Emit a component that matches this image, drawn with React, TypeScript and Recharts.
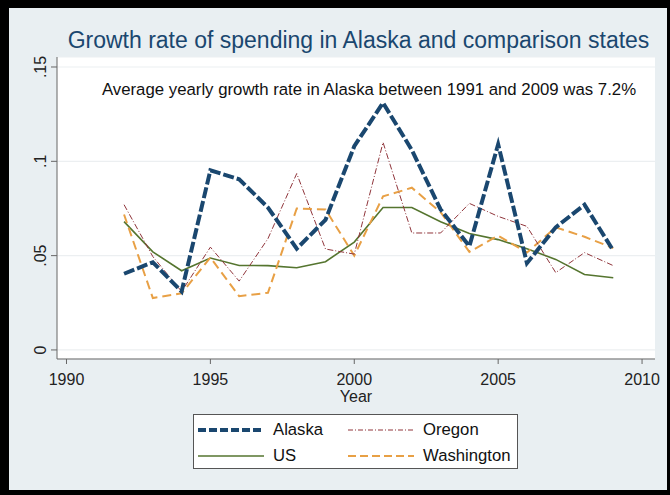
import React from 'react';
import { LineChart, Line, XAxis, YAxis, CartesianGrid } from 'recharts';

const years = [1992, 1993, 1994, 1995, 1996, 1997, 1998, 1999, 2000, 2001, 2002, 2003, 2004, 2005, 2006, 2007, 2008, 2009];
const alaska = [0.0404, 0.0465, 0.031, 0.0952, 0.0905, 0.0755, 0.0537, 0.069, 0.108, 0.131, 0.106, 0.0745, 0.055, 0.109, 0.046, 0.065, 0.077, 0.0527];
const us = [0.068, 0.052, 0.042, 0.0487, 0.0448, 0.0447, 0.0436, 0.0468, 0.0572, 0.0755, 0.0755, 0.068, 0.0617, 0.0585, 0.0537, 0.048, 0.04, 0.0383];
const oregon = [0.077, 0.0495, 0.031, 0.0545, 0.0365, 0.059, 0.0935, 0.0535, 0.0508, 0.11, 0.062, 0.062, 0.0777, 0.0708, 0.0655, 0.041, 0.0516, 0.0447];
const washington = [0.0718, 0.0275, 0.03, 0.049, 0.0285, 0.0303, 0.075, 0.0745, 0.05, 0.0814, 0.086, 0.073, 0.052, 0.0606, 0.0516, 0.065, 0.06, 0.054];

const xTicks = [1990, 1995, 2000, 2005, 2010];
const yTicks = [0, 0.05, 0.1, 0.15];
const yTickLabels = ['0', '.05', '.1', '.15'];

const titleText = 'Growth rate of spending in Alaska and comparison states';
const noteText = 'Average yearly growth rate in Alaska between 1991 and 2009 was 7.2%';
const xLabel = 'Year';

const data = years.map((year, i) => ({
  year,
  alaska: alaska[i],
  us: us[i],
  oregon: oregon[i],
  washington: washington[i],
}));

const FONT = '"Liberation Sans", Arial, Helvetica, sans-serif';

const C_AK = '#1a476f';
const C_US = '#55752f';
const C_OR = '#90353b';
const C_WA = '#e8a045';

const YTick = (props: any) => {
  const { x, y, payload } = props;
  const idx = yTicks.indexOf(payload.value);
  const label = idx >= 0 ? yTickLabels[idx] : String(payload.value);
  const bx = x - 3;
  return (
    <text x={bx} y={y} transform={`rotate(-90 ${bx} ${y})`} textAnchor="middle" fontFamily={FONT} fontSize={16} fill="#222">
      {label}
    </text>
  );
};

const XTick = (props: any) => {
  const { x, y, payload } = props;
  return (
    <text x={x} y={y + 19} textAnchor="middle" fontFamily={FONT} fontSize={16} fill="#222">
      {payload.value}
    </text>
  );
};

const legendItems = [
  { name: 'Alaska', color: C_AK, width: 4, dash: '8 3' },
  { name: 'Oregon', color: C_OR, width: 1, dash: '5 2 1 2' },
  { name: 'US', color: C_US, width: 1.5, dash: '' },
  { name: 'Washington', color: C_WA, width: 2, dash: '8 4' },
];

export default function App() {
  return (
    <div style={{ position: 'fixed', left: 0, top: 0, width: 670, height: 495, background: '#000', overflow: 'hidden' }}>
      <div style={{ position: 'absolute', left: 9, top: 8, width: 658, height: 482, background: '#e9eff2' }} />
      <div style={{ position: 'absolute', left: 0, top: 0 }}>
        <LineChart width={670} height={495} data={data} margin={{ top: 57, right: 15, bottom: 96, left: 0 }}>
          <CartesianGrid horizontal vertical={false} fill="#ffffff" stroke="#eceff1" strokeWidth={1.2} />
          <XAxis
            type="number"
            dataKey="year"
            domain={[1989.67, 2010.45]}
            ticks={xTicks}
            height={40}
            tickSize={5}
            tick={<XTick />}
            axisLine={{ stroke: '#666' }}
            tickLine={{ stroke: '#666' }}
            allowDataOverflow
          />
          <YAxis
            type="number"
            domain={[-0.0048, 0.1553]}
            ticks={yTicks}
            width={57}
            tickSize={6}
            tick={<YTick />}
            axisLine={{ stroke: '#666' }}
            tickLine={{ stroke: '#666' }}
            allowDataOverflow
          />
          <Line type="linear" dataKey="us" stroke={C_US} strokeWidth={1.6} dot={false} isAnimationActive={false} />
          <Line type="linear" dataKey="washington" stroke={C_WA} strokeWidth={2} strokeDasharray="9 5" dot={false} isAnimationActive={false} />
          <Line type="linear" dataKey="oregon" stroke={C_OR} strokeWidth={1} strokeDasharray="6 2 1 2" dot={false} isAnimationActive={false} />
          <Line type="linear" dataKey="alaska" stroke={C_AK} strokeWidth={4} strokeDasharray="11 3" dot={false} isAnimationActive={false} />
        </LineChart>
      </div>
      <div style={{ position: 'absolute', left: 0, width: 717, top: 26, textAlign: 'center', fontFamily: FONT, fontSize: 23, color: C_AK, whiteSpace: 'nowrap', lineHeight: '28px' }}>
        {titleText}
      </div>
      <div style={{ position: 'absolute', left: 0, width: 738, top: 80, textAlign: 'center', fontFamily: FONT, fontSize: 16.8, color: '#111', whiteSpace: 'nowrap', lineHeight: '20px' }}>
        {noteText}
      </div>
      <div style={{ position: 'absolute', left: 0, width: 712, top: 389, textAlign: 'center', fontFamily: FONT, fontSize: 16, color: '#222', lineHeight: '16px' }}>
        {xLabel}
      </div>
      <div style={{ position: 'absolute', left: 193, top: 414, width: 323, height: 53, background: '#fff', border: '1px solid #555' }}>
        {legendItems.map((it, i) => {
          const col = i % 2;
          const row = Math.floor(i / 2);
          const left = col === 0 ? 4 : 154;
          const top = row === 0 ? 4 : 30;
          return (
            <div key={it.name} style={{ position: 'absolute', left, top, height: 22, display: 'flex', alignItems: 'center', fontFamily: FONT, fontSize: 16.7, color: '#111', whiteSpace: 'nowrap' }}>
              <svg width={66} height={10} style={{ marginRight: 9 }}>
                <line x1={0} y1={5} x2={66} y2={5} stroke={it.color} strokeWidth={it.width} strokeDasharray={it.dash || undefined} />
              </svg>
              <span>{it.name}</span>
            </div>
          );
        })}
      </div>
    </div>
  );
}
